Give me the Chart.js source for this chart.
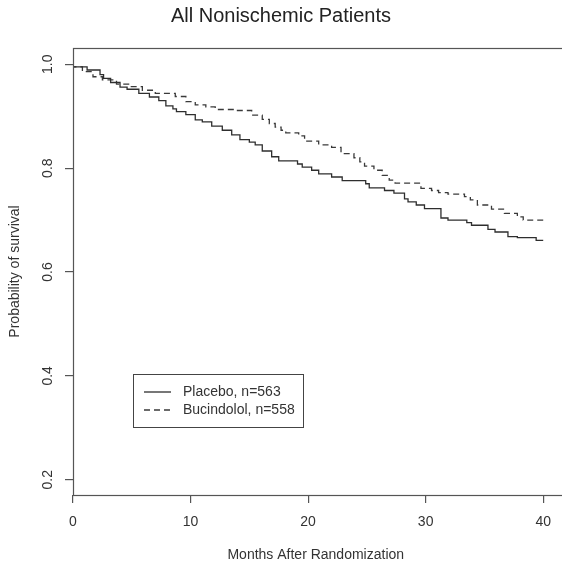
<!DOCTYPE html>
<html>
<head>
<meta charset="utf-8">
<title>All Nonischemic Patients</title>
<script src="https://cdn.jsdelivr.net/npm/chart.js@4/dist/chart.umd.min.js"></script>
<style>
  body { margin: 0; background: #fff; }
  canvas { display: block; }
</style>
</head>
<body>
<canvas id="kmChart" width="562" height="569"></canvas>
<script>
// courbes de survie (mois, probabilité)
const placeboMonths = [0, 1.2, 2.3, 2.6, 3.2, 4.0, 4.6, 5.6, 6.5, 7.3, 7.9, 8.5, 8.8, 9.6, 10.4, 11.0, 11.8, 12.7, 13.5, 14.2, 15.0, 15.5, 16.1, 16.9, 17.5, 19.1, 19.5, 20.3, 20.9, 22.0, 22.9, 24.9, 25.2, 26.5, 27.3, 28.2, 28.5, 29.2, 29.9, 31.3, 31.9, 33.5, 33.9, 35.3, 35.9, 37.0, 37.8, 39.4, 39.5, 40.0]
const placeboSurv = [1.0, 0.995, 0.989, 0.980, 0.973, 0.965, 0.956, 0.952, 0.944, 0.937, 0.930, 0.920, 0.914, 0.909, 0.903, 0.893, 0.889, 0.881, 0.873, 0.864, 0.855, 0.850, 0.845, 0.833, 0.822, 0.814, 0.808, 0.802, 0.796, 0.789, 0.783, 0.776, 0.770, 0.762, 0.757, 0.752, 0.741, 0.735, 0.729, 0.722, 0.704, 0.700, 0.695, 0.690, 0.682, 0.677, 0.668, 0.666, 0.661, 0.661]

const bucindololMonths = [0, 0.8, 1.7, 2.5, 3.7, 4.8, 5.9, 7.0, 8.7, 9.6, 10.4, 11.3, 12.1, 13.8, 15.2, 16.1, 16.7, 17.2, 17.7, 18.1, 19.2, 19.7, 20.9, 22.0, 22.8, 23.9, 24.4, 24.8, 25.6, 26.3, 26.9, 27.4, 29.6, 30.5, 31.1, 31.9, 33.3, 33.8, 34.4, 35.6, 36.7, 37.8, 38.3, 38.8, 40.0]
const bucindololSurv = [1.0, 0.995, 0.986, 0.976, 0.970, 0.962, 0.957, 0.950, 0.944, 0.938, 0.928, 0.922, 0.918, 0.913, 0.911, 0.902, 0.894, 0.886, 0.879, 0.873, 0.868, 0.862, 0.852, 0.845, 0.840, 0.828, 0.820, 0.812, 0.804, 0.796, 0.786, 0.777, 0.771, 0.761, 0.757, 0.753, 0.750, 0.745, 0.739, 0.729, 0.721, 0.713, 0.706, 0.700, 0.700]

const seriesLabels = ['Placebo, n=563', 'Bucindolol, n=558']
const xTicks = [0, 10, 20, 30, 40]
const yTicks = [0.2, 0.4, 0.6, 0.8, 1.0]

const FONT = '"Liberation Sans", Arial, Helvetica, sans-serif'
const ink = '#333'

const toPoints = (xs, ys) => xs.map((x, i) => ({ x: x, y: ys[i] }))

/**
 * cadre, étiquettes de l'axe y tournées, titres d'axes et légende à la manière de R
 */
const rStylePlugin = {
    id: 'rStyle',
    afterDraw(chart) {
        const ctx = chart.ctx
        const area = chart.chartArea
        const yScale = chart.scales.y

        ctx.save()
        // cadre du graphique
        ctx.strokeStyle = '#555'
        ctx.lineWidth = 1.2
        ctx.strokeRect(area.left + 0.5, area.top + 0.5, area.right - area.left + 4, area.bottom - area.top)

        // étiquettes y verticales
        ctx.fillStyle = ink
        ctx.font = '14px ' + FONT
        ctx.textAlign = 'center'
        ctx.textBaseline = 'middle'
        yTicks.forEach(v => {
            const py = yScale.getPixelForValue(v)
            ctx.save()
            ctx.translate(48, py)
            ctx.rotate(-Math.PI / 2)
            ctx.fillText(v.toFixed(1), 0, 0)
            ctx.restore()
        })

        // titres des axes
        ctx.fillText('Months After Randomization', (area.left + area.right) / 2, 555)
        ctx.save()
        ctx.translate(15, (area.top + area.bottom) / 2)
        ctx.rotate(-Math.PI / 2)
        ctx.fillText('Probability of survival', 0, 0)
        ctx.restore()

        // légende
        const box = { x: 133, y: 374, w: 170, h: 53 }
        ctx.strokeStyle = '#444'
        ctx.lineWidth = 1
        ctx.strokeRect(box.x + 0.5, box.y + 0.5, box.w, box.h)
        const rows = [392, 410]
        chart.data.datasets.forEach((ds, i) => {
            ctx.strokeStyle = ds.borderColor
            ctx.lineWidth = ds.borderWidth
            ctx.setLineDash(ds.borderDash || [])
            ctx.beginPath()
            ctx.moveTo(144, rows[i])
            ctx.lineTo(171, rows[i])
            ctx.stroke()
            ctx.setLineDash([])
            ctx.textAlign = 'left'
            ctx.fillStyle = ink
            ctx.fillText(ds.label, 183, rows[i])
        })
        ctx.restore()
    }
}

const ctx = document.getElementById('kmChart').getContext('2d')
const kmChart = new Chart(ctx, {
    type: 'line',
    data: {
        datasets: [
            {
                label: seriesLabels[0],
                data: toPoints(placeboMonths, placeboSurv),
                borderColor: '#2e2e2e',
                borderWidth: 1.3,
                stepped: 'after',
                pointRadius: 0,
                fill: false
            },
            {
                label: seriesLabels[1],
                data: toPoints(bucindololMonths, bucindololSurv),
                borderColor: '#3a3a3a',
                borderWidth: 1.3,
                borderDash: [6, 4],
                stepped: 'after',
                pointRadius: 0,
                fill: false
            }
        ]
    },
    options: {
        responsive: false,
        animation: false,
        layout: { padding: { left: 0, right: 0, top: 0, bottom: 0 } },
        plugins: {
            legend: { display: false },
            tooltip: { enabled: false },
            title: {
                display: true,
                text: 'All Nonischemic Patients',
                color: '#222',
                font: { family: FONT, size: 20, weight: 'normal' },
                padding: { top: 4, bottom: 20 }
            }
        },
        scales: {
            x: {
                type: 'linear',
                min: 0,
                max: 41.3,
                afterBuildTicks: scale => { scale.ticks = xTicks.map(v => ({ value: v })) },
                afterFit: scale => { scale.height = 74 },
                border: { display: false },
                grid: { drawOnChartArea: false, drawTicks: true, tickLength: 8, color: '#555', lineWidth: 1.2 },
                ticks: {
                    color: ink,
                    padding: 11,
                    maxRotation: 0,
                    font: { family: FONT, size: 14 },
                    callback: v => v
                }
            },
            y: {
                type: 'linear',
                min: 0.1705,
                max: 1.0314,
                afterBuildTicks: scale => { scale.ticks = yTicks.map(v => ({ value: v })) },
                afterFit: scale => { scale.width = 73 },
                border: { display: false },
                grid: { drawOnChartArea: false, drawTicks: true, tickLength: 8, color: '#555', lineWidth: 1.2 },
                ticks: { display: false }
            }
        }
    },
    plugins: [rStylePlugin]
})
</script>
</body>
</html>
